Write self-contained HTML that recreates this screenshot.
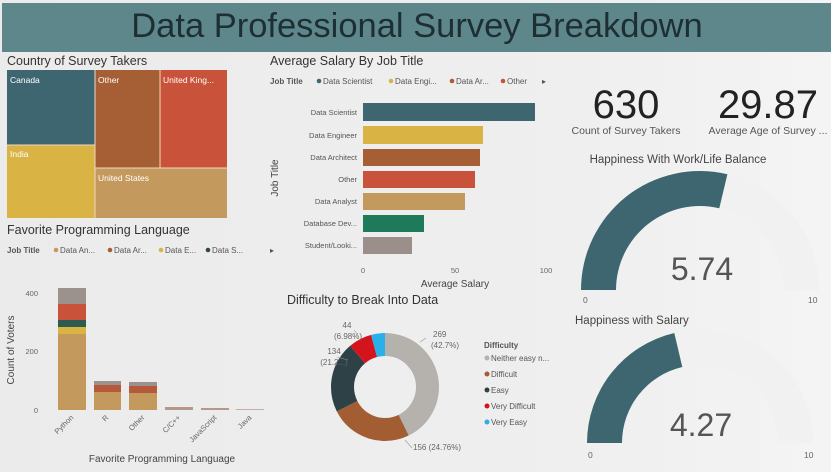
<!DOCTYPE html>
<html><head><meta charset="utf-8"><style>
html,body{margin:0;padding:0;background:#ededed;}
svg{display:block;font-family:"Liberation Sans",sans-serif;}
</style></head><body>
<svg width="831" height="472" viewBox="0 0 831 472">
<defs><linearGradient id="bg" x1="0" x2="1"><stop offset="0" stop-color="#ebebeb"/><stop offset="0.7" stop-color="#efefef"/><stop offset="1" stop-color="#f4f4f4"/></linearGradient></defs>
<rect width="831" height="472" fill="url(#bg)"/>
<rect x="2" y="3" width="829" height="49" fill="#5e878c"/>
<text x="417" y="37" font-size="34.5" fill="#1e2f33" text-anchor="middle">Data Professional Survey Breakdown</text>

<!-- Treemap -->
<text x="7" y="65" font-size="12.5" fill="#333">Country of Survey Takers</text>
<rect x="7" y="70" width="88" height="75" fill="#3e6670"/>
<rect x="7" y="145" width="88" height="73" fill="#d9b445"/>
<rect x="95" y="70" width="65" height="98" fill="#a65f35"/>
<rect x="160" y="70" width="67" height="98" fill="#c9533a"/>
<rect x="95" y="168" width="132" height="50" fill="#c4995e"/>
<g stroke="#f0d9c0" stroke-width="1" fill="none"><path d="M95 70V218M7 145H95M160 70V168M95 168H227"/></g>
<g font-size="8.5" fill="#fff"><text x="10" y="83">Canada</text><text x="10" y="157">India</text><text x="98" y="83">Other</text><text x="163" y="83">United King...</text><text x="98" y="181">United States</text></g>

<!-- Bar chart -->
<text x="270" y="65" font-size="12.5" fill="#333">Average Salary By Job Title</text>
<g font-size="8" fill="#555"><text x="270" y="84" font-weight="bold">Job Title</text>
<circle cx="319" cy="81" r="2.3" fill="#3e6670"/><text x="323" y="84">Data Scientist</text>
<circle cx="391" cy="81" r="2.3" fill="#d9b445"/><text x="395" y="84">Data Engi...</text>
<circle cx="452" cy="81" r="2.3" fill="#a65f35"/><text x="456" y="84">Data Ar...</text>
<circle cx="503" cy="81" r="2.3" fill="#c9533a"/><text x="507" y="84">Other</text>
<text x="542" y="84">▸</text></g>
<rect x="363" y="103" width="172" height="18" fill="#3e6670"/>
<rect x="363" y="126" width="120" height="18" fill="#d9b445"/>
<rect x="363" y="149" width="117" height="17" fill="#a65f35"/>
<rect x="363" y="171" width="112" height="17" fill="#c9533a"/>
<rect x="363" y="193" width="102" height="17" fill="#c4995e"/>
<rect x="363" y="215" width="61" height="17" fill="#1e7a5a"/>
<rect x="363" y="237" width="49" height="17" fill="#9a8f8a"/>
<g font-size="7.5" fill="#555" text-anchor="end"><text x="357" y="115">Data Scientist</text><text x="357" y="138">Data Engineer</text><text x="357" y="160">Data Architect</text><text x="357" y="182">Other</text><text x="357" y="204">Data Analyst</text><text x="357" y="226">Database Dev...</text><text x="357" y="248">Student/Looki...</text></g>
<text transform="translate(278,178) rotate(-90)" font-size="10" fill="#444" text-anchor="middle">Job Title</text>
<g font-size="7.5" fill="#666" text-anchor="middle"><text x="363" y="273">0</text><text x="455" y="273">50</text><text x="546" y="273">100</text></g>
<text x="455" y="287" font-size="10" fill="#444" text-anchor="middle">Average Salary</text>

<!-- KPIs -->
<text x="626" y="118" font-size="40" fill="#222" text-anchor="middle">630</text>
<text x="768" y="118" font-size="40" fill="#222" text-anchor="middle">29.87</text>
<text x="626" y="134" font-size="10.5" fill="#555" text-anchor="middle">Count of Survey Takers</text>
<text x="768" y="134" font-size="10.5" fill="#555" text-anchor="middle">Average Age of Survey ...</text>

<!-- Gauge 1 -->
<text x="678" y="163" font-size="11.5" fill="#444" text-anchor="middle">Happiness With Work/Life Balance</text>
<path d="M581,290 A119,119 0 0 1 819,290 L784,290 A84,84 0 0 0 616,290Z" fill="#f1f1f1"/>
<path d="M581,290 A119,119 0 0 1 727.4,174.2 L719.3,208.3 A84,84 0 0 0 616,290Z" fill="#3e6670"/>
<text x="702" y="280" font-size="32" fill="#555" text-anchor="middle">5.74</text>
<text x="583" y="303" font-size="8.5" fill="#666">0</text><text x="808" y="303" font-size="8.5" fill="#666">10</text>

<!-- Gauge 2 -->
<text x="575" y="324" font-size="11.5" fill="#444">Happiness with Salary</text>
<path d="M587,443 A113,113 0 0 1 813,443 L778,443 A78,78 0 0 0 622,443Z" fill="#f1f1f1"/>
<path d="M587,443 A113,113 0 0 1 674.3,333 L682.3,367 A78,78 0 0 0 622,443Z" fill="#3e6670"/>
<text x="701" y="436" font-size="32" fill="#555" text-anchor="middle">4.27</text>
<text x="588" y="458" font-size="8.5" fill="#666">0</text><text x="804" y="458" font-size="8.5" fill="#666">10</text>

<!-- Stacked columns -->
<text x="7" y="234" font-size="12.5" fill="#333">Favorite Programming Language</text>
<g font-size="8" fill="#555"><text x="7" y="253" font-weight="bold">Job Title</text>
<circle cx="56" cy="250" r="2.3" fill="#c4995e"/><text x="60" y="253">Data An...</text>
<circle cx="110" cy="250" r="2.3" fill="#a65f35"/><text x="114" y="253">Data Ar...</text>
<circle cx="161" cy="250" r="2.3" fill="#d9b445"/><text x="165" y="253">Data E...</text>
<circle cx="208" cy="250" r="2.3" fill="#2e4a4e"/><text x="212" y="253">Data S...</text>
<text x="270" y="253">▸</text></g>
<rect x="58" y="288" width="28" height="16" fill="#9c928d"/>
<rect x="58" y="304" width="28" height="16" fill="#c9533a"/>
<rect x="58" y="320" width="28" height="7" fill="#2e5a50"/>
<rect x="58" y="327" width="28" height="7" fill="#d9b445"/>
<rect x="58" y="334" width="28" height="76" fill="#c4995e"/>
<rect x="94" y="381" width="27" height="4" fill="#9c928d"/>
<rect x="94" y="385" width="27" height="7" fill="#b5593a"/>
<rect x="94" y="392" width="27" height="18" fill="#c4995e"/>
<rect x="129" y="382" width="28" height="4" fill="#9c928d"/>
<rect x="129" y="386" width="28" height="7" fill="#b5593a"/>
<rect x="129" y="393" width="28" height="17" fill="#c4995e"/>
<rect x="165" y="407" width="28" height="3" fill="#b5988a"/>
<rect x="201" y="408" width="28" height="2" fill="#b5988a"/>
<rect x="236" y="409" width="28" height="1" fill="#c0b0a8"/>
<g font-size="7.5" fill="#666" text-anchor="end"><text x="38" y="296">400</text><text x="38" y="354">200</text><text x="38" y="413">0</text></g>
<text transform="translate(14,350) rotate(-90)" font-size="10" fill="#444" text-anchor="middle">Count of Voters</text>
<g font-size="7.5" fill="#666" text-anchor="end">
<text transform="translate(74,418) rotate(-45)">Python</text>
<text transform="translate(109,418) rotate(-45)">R</text>
<text transform="translate(145,418) rotate(-45)">Other</text>
<text transform="translate(181,418) rotate(-45)">C/C++</text>
<text transform="translate(217,418) rotate(-45)">JavaScript</text>
<text transform="translate(252,418) rotate(-45)">Java</text></g>
<text x="162" y="462" font-size="10" fill="#444" text-anchor="middle">Favorite Programming Language</text>

<!-- Donut -->
<text x="287" y="304" font-size="12.5" fill="#333">Difficulty to Break Into Data</text>
<g transform="translate(385,387) rotate(-90)" fill="none" stroke-width="23">
<circle r="42.5" stroke="#b5b2ae" stroke-dasharray="114 153.04" stroke-dashoffset="0"/>
<circle r="42.5" stroke="#a35d33" stroke-dasharray="66.1 200.94" stroke-dashoffset="-114"/>
<circle r="42.5" stroke="#2e4146" stroke-dasharray="56.8 210.24" stroke-dashoffset="-180.1"/>
<circle r="42.5" stroke="#d4141c" stroke-dasharray="18.6 248.44" stroke-dashoffset="-236.9"/>
<circle r="42.5" stroke="#2ab0e8" stroke-dasharray="11.5 255.54" stroke-dashoffset="-255.5"/>
</g>
<g stroke="#999" stroke-width="0.6" fill="none"><path d="M420,342 L426,338 M405,440 L412,448 M348,360 L337,357 M358,335 L354,330"/></g>
<g font-size="8" fill="#666"><text x="433" y="337">269</text><text x="431" y="348">(42.7%)</text>
<text x="413" y="450">156 (24.76%)</text>
<text x="334" y="354" text-anchor="middle">134</text><text x="334" y="365" text-anchor="middle">(21.2...)</text>
<text x="347" y="328" text-anchor="middle">44</text><text x="334" y="339">(6.98%)</text></g>
<g font-size="8" fill="#555"><text x="484" y="348" font-weight="bold">Difficulty</text>
<circle cx="487" cy="358" r="2.5" fill="#b5b2ae"/><text x="491" y="361">Neither easy n...</text>
<circle cx="487" cy="374" r="2.5" fill="#a35d33"/><text x="491" y="377">Difficult</text>
<circle cx="487" cy="390" r="2.5" fill="#2e4146"/><text x="491" y="393">Easy</text>
<circle cx="487" cy="406" r="2.5" fill="#d4141c"/><text x="491" y="409">Very Difficult</text>
<circle cx="487" cy="422" r="2.5" fill="#2ab0e8"/><text x="491" y="425">Very Easy</text></g>
</svg>
</body></html>
